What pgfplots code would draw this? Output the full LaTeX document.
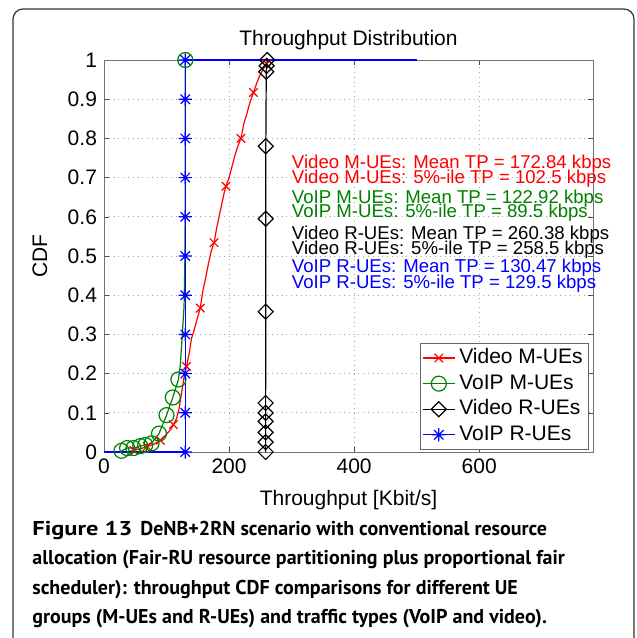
\documentclass[border=0pt]{standalone}
\usepackage{fontspec}
\setmainfont{Liberation Sans}
\newfontfamily\capfont{PT Sans}
\usepackage{pgfplots}
\pgfplotsset{compat=1.18}
\definecolor{mgreen}{rgb}{0,0.5,0}

% MATLAB-like markers
\pgfdeclareplotmark{mstar}{%
  \pgfpathmoveto{\pgfqpoint{-\pgfplotmarksize}{0pt}}\pgfpathlineto{\pgfqpoint{\pgfplotmarksize}{0pt}}%
  \pgfpathmoveto{\pgfqpoint{0pt}{-\pgfplotmarksize}}\pgfpathlineto{\pgfqpoint{0pt}{\pgfplotmarksize}}%
  \pgfpathmoveto{\pgfqpoint{-.7071\pgfplotmarksize}{-.7071\pgfplotmarksize}}\pgfpathlineto{\pgfqpoint{.7071\pgfplotmarksize}{.7071\pgfplotmarksize}}%
  \pgfpathmoveto{\pgfqpoint{-.7071\pgfplotmarksize}{.7071\pgfplotmarksize}}\pgfpathlineto{\pgfqpoint{.7071\pgfplotmarksize}{-.7071\pgfplotmarksize}}%
  \pgfusepathqstroke}
\pgfdeclareplotmark{mdiamond}{%
  \pgfpathmoveto{\pgfqpoint{\pgfplotmarksize}{0pt}}\pgfpathlineto{\pgfqpoint{0pt}{\pgfplotmarksize}}%
  \pgfpathlineto{\pgfqpoint{-\pgfplotmarksize}{0pt}}\pgfpathlineto{\pgfqpoint{0pt}{-\pgfplotmarksize}}%
  \pgfpathclose\pgfusepathqstroke}

\begin{document}
\begin{tikzpicture}[font=\fontsize{10.5}{12.6}\selectfont]
\useasboundingbox (-52pt,-93pt) rectangle (266.5pt,226pt);
\draw[black!80, line width=0.6pt, rounded corners=5pt]
  (-45.5pt,-100pt) -- (-45.5pt,221.5pt) -- (265pt,221.5pt) -- (265pt,-100pt);

\begin{axis}[
    at={(0,0)}, anchor=south west,
    scale only axis, width=244.5pt, height=196pt,
    xmin=0, xmax=782, ymin=0, ymax=1,
    xtick={0,200,400,600},
    ytick={0,0.1,0.2,0.3,0.4,0.5,0.6,0.7,0.8,0.9,1},
    /pgf/number format/assume math mode=true,
    tick label style={font=\fontsize{10.5}{12.6}\selectfont},
    tick align=inside, major tick length=2.5pt,
    tick style={black!70},
    axis line style={black!55},
    grid=major, major grid style={dotted, black!35},
    clip=false,
    title={Throughput Distribution},
    title style={at={(axis description cs:0.5,1)}, anchor=center, yshift=4pt},
    xlabel={Throughput [Kbit/s]},
    xlabel style={at={(axis description cs:0.5,0)}, anchor=center, yshift=-24pt},
    ylabel={CDF},
    ylabel style={at={(axis description cs:0,0.5)}, anchor=center, yshift=32pt},
    every axis plot/.append style={line width=0.6pt},
    legend image code/.code={\draw[#1, mark indices={2}]
        plot coordinates {(0cm,0cm) (0.28cm,0cm) (0.56cm,0cm)};},
    legend style={at={(0.992,0.005)}, anchor=south east, draw=black!60,
        font=\fontsize{10.5}{12.6}\selectfont, inner xsep=1pt, inner ysep=1pt,
        row sep=0pt, nodes={inner ysep=1.3pt, text height=7.8pt, text depth=2.4pt},
        /tikz/every even column/.append style={column sep=0pt}},
    legend cell align=left,
]

% Video M-UEs
\addplot[red, mark=x, mark size=3pt,
    mark indices={2,4,6,10,15,20,25,30,35,39,44}] coordinates {
    (35,0) (48,0.004) (58,0.008) (69,0.014) (80,0.02) (90,0.03) (97,0.04)
    (102.5,0.05) (107,0.058) (111,0.07) (116,0.085) (120,0.11) (124,0.15)
    (128,0.19) (132,0.218) (136,0.25) (140,0.29) (144,0.31) (149,0.34)
    (154,0.367) (158,0.41) (162,0.44) (167,0.48) (171,0.51) (176,0.534)
    (180,0.57) (184,0.6) (188,0.63) (192,0.66) (195,0.678) (200,0.7)
    (205,0.73) (210,0.76) (214,0.78) (219,0.8) (224,0.84) (228,0.86)
    (233,0.89) (239,0.917) (244,0.94) (249,0.96) (254,0.975) (258,0.985)
    (260,0.99) (263,1)
};
\addlegendentry{Video M-UEs}

% VoIP M-UEs
\addplot[mgreen, mark=o, mark size=3.75pt,
    mark indices={1,2,3,4,5,6,7,8,9,10,17}] coordinates {
    (28,0.003) (37,0.01) (47,0.01) (58,0.015) (66,0.018) (76,0.022)
    (88,0.047) (100,0.094) (110,0.139) (119,0.185) (122,0.22) (124,0.27)
    (126,0.32) (128,0.37) (129.5,0.5) (130,0.7) (130,1)
};
\addlegendentry{VoIP M-UEs}

% Video R-UEs
\addplot[black, mark=mdiamond, mark size=3.75pt] coordinates {
    (258.5,0) (258.5,0.025) (258.5,0.05) (258.5,0.078) (258.5,0.1)
    (258.5,0.125) (258.6,0.358) (258.7,0.595) (258.8,0.78) (259.5,0.97)
    (260,0.985) (261,1)
};
\addlegendentry{Video R-UEs}

% VoIP R-UEs
\addplot[blue, mark=mstar, mark size=3.3pt,
    mark indices={2,3,4,5,6,7,8,9,10,11,12}] coordinates {
    (0,0) (130,0) (130,0.1) (130,0.2) (130,0.3) (130,0.4) (130,0.5)
    (130,0.6) (130,0.7) (130,0.8) (130,0.9) (130,1) (500,1)
};
\addlegendentry{VoIP R-UEs}

\begin{scope}[every node/.style={anchor=west, inner sep=0pt,
    font=\fontsize{9.3}{11}\selectfont}]
\node[text=red]    at (axis cs:300,0.736) {Video M-UEs: Mean TP = 172.84 kbps};
\node[text=red]    at (axis cs:300,0.698) {Video M-UEs: 5\%-ile TP = 102.5 kbps};
\node[text=mgreen] at (axis cs:300,0.647) {VoIP M-UEs: Mean TP = 122.92 kbps};
\node[text=mgreen] at (axis cs:300,0.610) {VoIP M-UEs: 5\%-ile TP = 89.5 kbps};
\node[text=black]  at (axis cs:300,0.554) {Video R-UEs: Mean TP = 260.38 kbps};
\node[text=black]  at (axis cs:300,0.517) {Video R-UEs: 5\%-ile TP = 258.5 kbps};
\node[text=blue]   at (axis cs:300,0.469) {VoIP R-UEs: Mean TP = 130.47 kbps};
\node[text=blue]   at (axis cs:300,0.429) {VoIP R-UEs: 5\%-ile TP = 129.5 kbps};
\end{scope}
\end{axis}

\begin{scope}[every node/.style={anchor=base west, inner sep=0pt,
    font=\capfont\bfseries\fontsize{10}{14.7}\selectfont}]
\node at (-36pt,-41.5pt) {\scalebox{1.22}[1]{Figure 13}\hspace{4pt}DeNB+2RN scenario with conventional resource};
\node at (-36pt,-56.25pt) {allocation (Fair-RU resource partitioning plus proportional fair};
\node at (-36pt,-71pt) {scheduler): throughput CDF comparisons for different UE};
\node at (-36pt,-85.75pt) {groups (M-UEs and R-UEs) and traffic types (VoIP and video).};
\end{scope}
\end{tikzpicture}
\end{document}
